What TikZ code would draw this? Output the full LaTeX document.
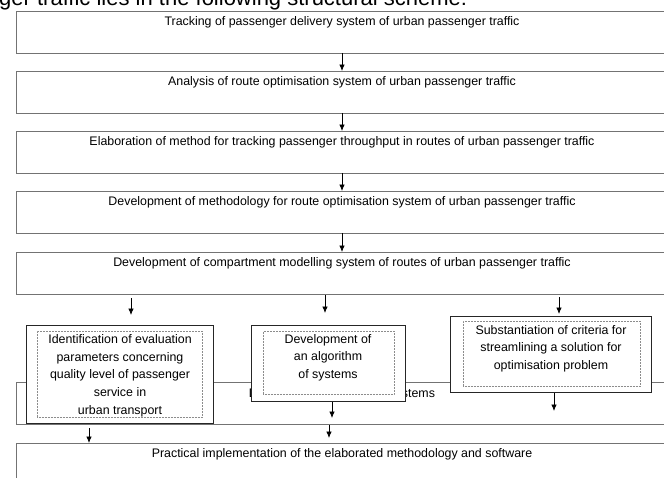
\documentclass[tikz,border=0pt]{standalone}
\usepackage{fontspec}
\setmainfont{Liberation Sans}
\usetikzlibrary{arrows.meta,shadows}
\begin{document}
\begin{tikzpicture}[x=1pt,y=-1pt,
  mainbox/.style={draw=black!55, line width=0.9pt, rectangle, inner sep=0pt, outer sep=0pt,
    anchor=north west, minimum width=704pt, minimum height=42pt},
  lbl/.style={font=\fontsize{12.4}{17.7}\selectfont, inner sep=0pt, anchor=base},
  subbox/.style={draw=black!85, line width=1pt, fill=white, rectangle, inner sep=0pt, outer sep=0pt,
    anchor=north west, drop shadow={shadow xshift=1.3pt, shadow yshift=-1.3pt, fill=black!55, opacity=1}},
  innerbox/.style={draw=black!45, densely dotted, line width=0.5pt, rectangle, inner sep=0pt,
    outer sep=0pt, anchor=north west},
  subtxt/.style={font=\fontsize{12.4}{17.7}\selectfont, align=center, inner sep=0pt},
  arr/.style={-{Latex[length=6.5pt,width=5.5pt]}, line width=0.8pt, black}
]
\useasboundingbox (0,0) rectangle (664,477);
\clip (0,0) rectangle (664,477);

% partially visible caption at the top
\node[font=\fontsize{22}{26}\selectfont, inner sep=0pt, anchor=base west] (cap) at (-1,5)
  {ger traffic lies in the following structural scheme:};

% main boxes
\node[mainbox] (b1) at (16,11) {};
\node[mainbox] (b2) at (16,71) {};
\node[mainbox] (b3) at (16,131) {};
\node[mainbox] (b4) at (16,191) {};
\node[mainbox] (b5) at (16,252) {};
\node[mainbox] (b6) at (16,382) {};
\node[mainbox, minimum height=80pt] (b7) at (16,443) {};

\node[lbl] (t1) at (342,25) {Tracking of passenger delivery system of urban passenger traffic};
\node[lbl] (t2) at (342,85) {Analysis of route optimisation system of urban passenger traffic};
\node[lbl] (t3) at (342,145) {Elaboration of method for tracking passenger throughput in routes of urban passenger traffic};
\node[lbl] (t4) at (342,205) {Development of methodology for route optimisation system of urban passenger traffic};
\node[lbl] (t5) at (342,266) {Development of compartment modelling system of routes of urban passenger traffic};
\node[lbl] (t6) at (342,397) {Development of software systems};
\node[lbl] (t7) at (342,457) {Practical implementation of the elaborated methodology and software};

% arrows between main boxes
\draw[arr] (b1.south -| t1.base) -- (b2.north -| t1.base);
\draw[arr] (b2.south -| t1.base) -- (b3.north -| t1.base);
\draw[arr] (b3.south -| t1.base) -- (b4.north -| t1.base);
\draw[arr] (b4.south -| t1.base) -- (b5.north -| t1.base);

% sub boxes
\node[subbox, minimum width=187pt, minimum height=98pt] (s1) at (26,325) {};
\node[innerbox, minimum width=165pt, minimum height=86pt] (i1) at (37,331) {};
\node[subtxt] (m1) at (120,375.5) {Identification of evaluation\\parameters concerning\\quality level of passenger\\service in\\urban transport};

\node[subbox, minimum width=154pt, minimum height=76pt] (s2) at (251,325) {};
\node[innerbox, minimum width=131pt, minimum height=63pt] (i2) at (263,331) {};
\node[subtxt] (m2) at (328,357.5) {Development of\\an algorithm\\of systems};

\node[subbox, minimum width=201pt, minimum height=76pt] (s3) at (450,316) {};
\node[innerbox, minimum width=177pt, minimum height=65pt] (i3) at (463,321) {};
\node[subtxt] (m3) at (551,348.5) {Substantiation of criteria for\\streamlining a solution for\\optimisation problem};

% helper x positions
\coordinate (xa) at (131,0);
\coordinate (xb) at (325,0);
\coordinate (xc) at (559,0);
\coordinate (xd) at (89,0);
\coordinate (xe) at (332,0);
\coordinate (xf) at (554,0);
\coordinate (xg) at (329,0);

% arrows from b5 to sub boxes
\draw[arr, shorten <=4pt, shorten >=10pt] (b5.south -| xa) -- (s1.north -| xa);
\draw[arr, shorten <=1pt, shorten >=12pt] (b5.south -| xb) -- (s2.north -| xb);
\draw[arr, shorten <=3pt, shorten >=2pt] (b5.south -| xc) -- (s3.north -| xc);

% arrows below sub boxes
\draw[arr, shorten <=5pt] (s1.south -| xd) -- (b7.north -| xd);
\draw[arr, shorten <=1pt, shorten >=6pt] (s2.south -| xe) -- (b6.south -| xe);
\draw[arr, shorten <=1pt, shorten >=13pt] (s3.south -| xf) -- (b6.south -| xf);
\draw[arr, shorten <=1pt, shorten >=5pt] (b6.south -| xg) -- (b7.north -| xg);
\end{tikzpicture}
\end{document}
